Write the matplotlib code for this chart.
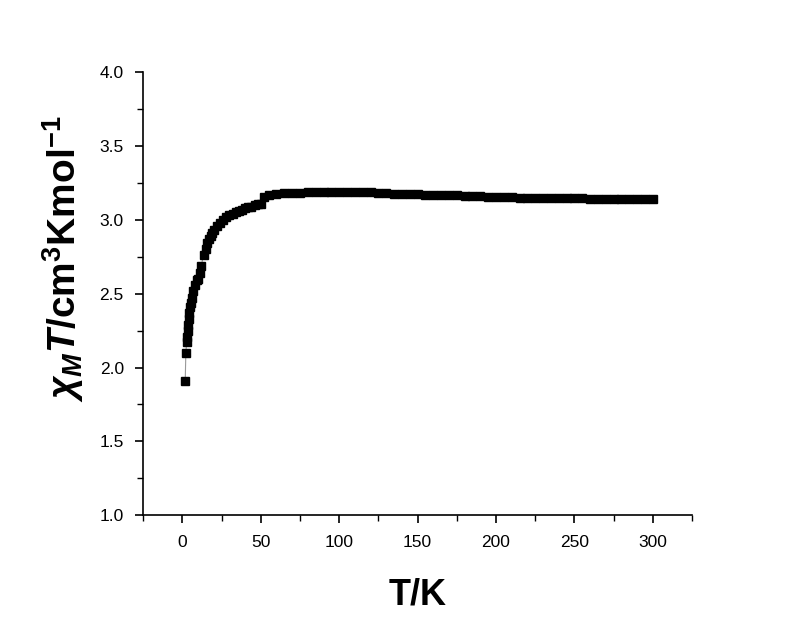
import matplotlib
matplotlib.use("Agg")
import matplotlib.pyplot as plt
from matplotlib.ticker import MultipleLocator

plt.rcParams['font.family'] = ['Liberation Sans', 'DejaVu Sans']
plt.rcParams['mathtext.fontset'] = 'custom'
plt.rcParams['mathtext.rm'] = 'Liberation Sans:bold'
plt.rcParams['mathtext.bf'] = 'Liberation Sans:bold'
plt.rcParams['mathtext.it'] = 'Liberation Sans:italic:bold'

# temperature (K) and chi_M*T (cm3 K mol-1)
temp = [1.8, 2.2, 2.7, 3.0, 3.3, 3.6, 4.0, 4.5, 5.0, 5.5, 6.0, 7.0, 8.0, 9.0,
        10.0, 11.0, 12.0, 13.5, 15.0, 16.0, 17.0, 18.0, 19.0, 20.0, 22.0, 24.0,
        26.0, 28.0, 30.0, 32.0, 34.0, 36.0, 38.0, 40.0, 42.0, 44.0, 46.0, 48.0,
        50.0, 52.0, 55, 60, 65, 70, 75, 80, 85, 90, 95, 100, 105, 110, 115, 120,
        125, 130, 135, 140, 145, 150, 155, 160, 165, 170, 175, 180, 185, 190,
        195, 200, 205, 210, 215, 220, 225, 230, 235, 240, 245, 250, 255, 260,
        265, 270, 275, 280, 285, 290, 295, 300]
chiT = [1.91, 2.10, 2.17, 2.21, 2.25, 2.29, 2.33, 2.37, 2.41, 2.44, 2.47, 2.52,
        2.56, 2.59, 2.60, 2.64, 2.69, 2.76, 2.80, 2.84, 2.87, 2.89, 2.91, 2.93,
        2.96, 2.98, 3.00, 3.02, 3.03, 3.04, 3.05, 3.06, 3.07, 3.08, 3.085, 3.09,
        3.10, 3.105, 3.11, 3.155, 3.165, 3.175, 3.18, 3.183, 3.185, 3.186, 3.187,
        3.188, 3.189, 3.19, 3.189, 3.188, 3.187, 3.186, 3.185, 3.182, 3.178,
        3.175, 3.173, 3.172, 3.17, 3.168, 3.167, 3.166, 3.165, 3.163, 3.161,
        3.159, 3.157, 3.156, 3.155, 3.153, 3.151, 3.150, 3.149, 3.148, 3.147,
        3.147, 3.146, 3.146, 3.145, 3.144, 3.142, 3.141, 3.140, 3.140, 3.139,
        3.138, 3.138, 3.14]

fig = plt.figure(figsize=(8, 6.17), dpi=100)
ax = fig.add_axes([0.179, 0.165, 0.686, 0.718])

ax.plot(temp, chiT, color='#999999', lw=0.8, zorder=1)
ax.plot(temp, chiT, ls='none', marker='s', ms=6, color='black', zorder=2)

ax.set_xlim(-25, 325)
ax.set_ylim(1.0, 4.0)
ax.xaxis.set_major_locator(MultipleLocator(50))
ax.xaxis.set_minor_locator(MultipleLocator(25))
ax.yaxis.set_major_locator(MultipleLocator(0.5))
ax.yaxis.set_minor_locator(MultipleLocator(0.25))
ax.yaxis.set_major_formatter(plt.FormatStrFormatter('%.1f'))

ax.spines['top'].set_visible(False)
ax.spines['right'].set_visible(False)
ax.spines['left'].set_linewidth(1.2)
ax.spines['bottom'].set_linewidth(1.2)
ax.tick_params(which='major', direction='out', length=6, width=1.2, labelsize=12.5, pad=8)
ax.tick_params(which='minor', direction='out', length=4, width=1.0)

ax.set_xlabel('T/K', fontsize=26, fontweight='bold', labelpad=20)
ax.set_ylabel(r'$\chi_{M}T$/cm$^{3}$Kmol$^{-1}$', fontsize=28, fontweight='bold')
ax.yaxis.set_label_coords(-0.105, 0.58)

fig.savefig('out.png', dpi=100)
